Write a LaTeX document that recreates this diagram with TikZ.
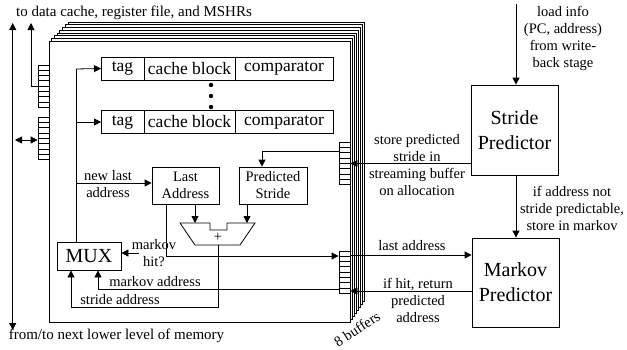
\documentclass[tikz,border=0pt]{standalone}
\usepackage{fontspec}
\setmainfont{Liberation Serif}
\usetikzlibrary{positioning,arrows.meta,calc}
\newcommand{\lfont}{\fontsize{14.5}{17}\selectfont}
\newcommand{\cfont}{\fontsize{17.5}{20}\selectfont}
\newcommand{\bfont}{\fontsize{20}{25}\selectfont}

\begin{document}
\begin{tikzpicture}[x=1pt,y=-1pt,line width=0.8pt,>={Triangle[length=7pt,width=7pt]},
	cell/.style={draw,fill=white,minimum height=23pt,inner sep=0pt,outer sep=0pt,font=\cfont},
	box/.style={draw,fill=white,align=center,inner sep=0pt,font=\lfont},
	bufr/.style={draw,fill=white,minimum width=11pt,minimum height=42pt,inner sep=0pt},
	lbl/.style={align=center,inner sep=0pt,font=\lfont}]
	\useasboundingbox (0,0) rectangle (627,349);
	% stacked streaming buffers
	\foreach \i in {7,...,1}
		\draw[fill=white] (49+2.7*\i,41-2.7*\i) rectangle (350+2.1*\i,322-3*\i);
	\draw[fill=white] (49,41) rectangle (350,322);
	% tag rows
	\node[cell,minimum width=43pt] (tag1) at (122.5,68.5) {tag};
	\node[cell,minimum width=91pt,right=0pt of tag1] (blk1) {cache block};
	\node[cell,minimum width=98pt,right=0pt of blk1] (cmp1) {comparator};
	\node[cell,minimum width=43pt] (tag2) at (122.5,122) {tag};
	\node[cell,minimum width=91pt,right=0pt of tag2] (blk2) {cache block};
	\node[cell,minimum width=98pt,right=0pt of blk2] (cmp2) {comparator};
	\foreach \y in {85,96,107}
		\fill (211,\y) circle (2.2pt);
	% boxes
	\node[box,minimum width=67pt,minimum height=37pt] (lastad) at (185.5,185.5) {Last\\Address};
	\node[box,minimum width=68pt,minimum height=37pt] (pstr) at (273,185.5) {Predicted\\Stride};
	\node[box,font=\bfont,minimum width=64pt,minimum height=28pt] (mux) at (89,256) {MUX};
	\node[box,font=\bfont,minimum width=87pt,minimum height=90pt] (spred) at (514.5,130) {Stride\\Predictor};
	\node[box,font=\bfont,minimum width=87pt,minimum height=89pt] (mpred) at (515.5,282.5) {Markov\\Predictor};
	% buffers
	\node[bufr] (lbuf1) at (43.5,86) {};
	\node[bufr] (lbuf2) at (43.5,138.5) {};
	\node[bufr] (rbuf1) at (344.5,163.5) {};
	\node[bufr] (rbuf2) at (344.5,272) {};
	\foreach \b in {lbuf1,lbuf2,rbuf1,rbuf2}
		\foreach \k in {1,...,7}
			\draw ($(\b.north west)!\k/8!(\b.south west)$) -- ($(\b.north east)!\k/8!(\b.south east)$);
	% adder
	\draw[fill=white] (180,223) -- (210,223) -- (210,230) -- (227,230) -- (227,223)
		-- (255,223) -- (240,245) -- (195,245) -- cycle;
	\node[inner sep=0pt,font=\lfont] (plus) at (218,237) {+};
	\coordinate (addin1) at (195,223);
	\coordinate (addin2) at (247,223);
	\coordinate (addout) at (218,245);
	% labels
	\node[lbl,font={\fontsize{15}{18}\selectfont}] (totxt) at (134,13) {to data cache, register file, and MSHRs};
	\node[lbl,font={\fontsize{15}{18}\selectfont}] (frtxt) at (116.5,336) {from/to next lower level of memory};
	\node[lbl] (newla) at (108,184) {new last\\address};
	\node[lbl] (hit) at (154,253) {markov\\hit?};
	\node[lbl] (mkad) at (155,282) {markov address};
	\node[lbl] (stad) at (120,300) {stride address};
	\node[lbl] (stst) at (417,165.5) {store predicted\\stride in\\streaming buffer\\on allocation};
	\node[lbl] (lsad) at (412,246) {last address};
	\node[lbl] (ifht) at (418,300) {if hit, return\\predicted\\address};
	\node[lbl] (ldinfo) at (563,38) {load info\\(PC, address)\\from write-\\back stage};
	\node[lbl] (ifad) at (572,208) {if address not\\stride predictable,\\store in markov};
	\node[lbl,rotate=33] (eight) at (357,329) {8 buffers};
	% connectors inside
	\coordinate (bus) at (76,69);
	\draw (bus |- mux.north) -- (bus);
	\draw[->] (bus) -- (tag1.west);
	\draw[->] (bus |- tag2.west) -- (tag2.west);
	\draw[->] ([yshift=2.5pt]bus |- lastad.west) coordinate (nl) -- (nl -| lastad.west);
	\draw[->] ([yshift=12.5pt]rbuf1.west) -| ([xshift=-11pt]pstr.north);
	\draw[->] (lastad.south -| addin1) -- (addin1);
	\draw[->] (pstr.south -| addin2) -- (addin2);
	\draw[->] ([xshift=-19.5pt]lastad.south) |- ([yshift=16pt]rbuf2.west);
	\draw[->] ([yshift=-17pt]rbuf2.west) -| ([xshift=9pt]mux.south);
	\draw[->] (addout) |- ([xshift=-18pt,yshift=-37pt]mux.south) -- ([xshift=-18pt]mux.south);
	\draw[->] ([xshift=8pt]hit.west) -- (hit.west -| mux.east);
	% predictors
	\coordinate (ldin) at (516,4);
	\draw[->] (ldin) -- (ldin |- spred.north);
	\draw[->] (ldin |- spred.south) -- (ldin |- mpred.north);
	\draw[->] (spred.west |- rbuf1.east) -- (rbuf1.east);
	\draw[->] ([yshift=17pt]rbuf2.east) coordinate (la) -- (la -| mpred.west);
	\draw[<-] ([yshift=-19pt]rbuf2.east) coordinate (ha) -- (ha -| mpred.west);
	% left side
	\coordinate (up1) at (12.7,23);
	\coordinate (dn1) at (12.7,330);
	\coordinate (up2) at (31,23);
	\coordinate (lr) at (15,140);
	\draw[<->] (up1) -- (dn1);
	\draw[->] (lbuf1.west) -| (up2);
	\draw[<->] (lbuf2.west |- lr) -- (lr);
\end{tikzpicture}
\end{document}
